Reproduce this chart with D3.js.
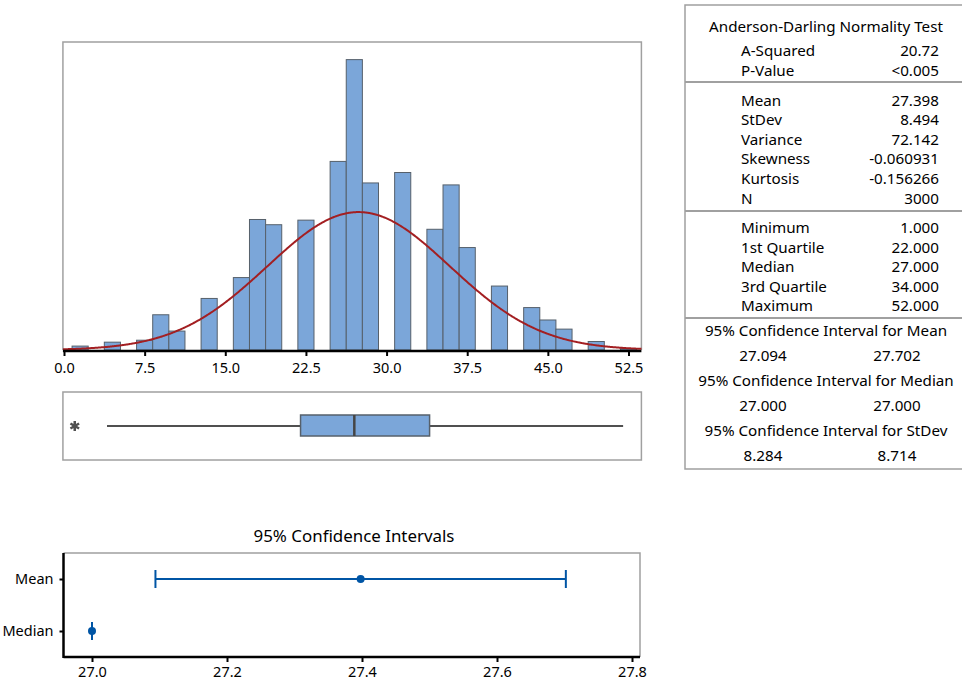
<!DOCTYPE html>
<meta charset="utf-8">
<style>
  body { margin: 0; background: #fff; }
  svg { display: block; font-family: "Noto Sans", sans-serif; }
  .frame { fill: none; stroke: #a0a0a0; stroke-width: 1.5; }
  .axis path, .axis line { stroke: #000; }
  .bar { fill: #7ba6d9; stroke: #56606b; stroke-width: 1; }
  .fit { fill: none; stroke: #a31f22; stroke-width: 2; }
  .tbl text { font-size: 15.2px; fill: #000; }
  .ci { stroke: #0055a5; stroke-width: 2; fill: none; }
</style>
<body></body>
<script src="https://d3js.org/d3.v7.min.js"></script>
<script>

// histogram bins (centers, counts)
var binCenters = [1.5, 4.5, 7.5, 9, 10.5, 13.5, 16.5, 18, 19.5, 22.5, 25.5, 27, 28.5, 31.5, 34.5, 36, 37.5, 40.5, 43.5, 45, 46.5, 49.5, 52.5];
var binCounts  = [6, 12, 15, 54, 29, 79, 111, 200, 192, 199, 289, 445, 256, 272, 185, 253, 157, 98, 65, 46, 32, 13, 2];
var binWidth = 1.5;
var histTicks = [0, 7.5, 15, 22.5, 30, 37.5, 45, 52.5];

// summary stats
var mean = 27.398, stdev = 8.494, n = 3000;
var boxStats = [4, 22, 27, 34, 52]; // whisker lo, Q1, median, Q3, whisker hi
var outliers = [1];

// confidence intervals
var ciRows  = ["Mean", "Median"];
var ciCenter = [27.398, 27.0];
var ciLower  = [27.094, 27.0];
var ciUpper  = [27.702, 27.0];
var ciTicks  = [27.0, 27.2, 27.4, 27.6, 27.8];

// table on the right
var adLabels = ["A-Squared", "P-Value"];
var adValues = ["20.72", "<0.005"];
var momLabels = ["Mean", "StDev", "Variance", "Skewness", "Kurtosis", "N"];
var momValues = ["27.398", "8.494", "72.142", "-0.060931", "-0.156266", "3000"];
var qLabels = ["Minimum", "1st Quartile", "Median", "3rd Quartile", "Maximum"];
var qValues = ["1.000", "22.000", "27.000", "34.000", "52.000"];
var ciTitles = ["95% Confidence Interval for Mean", "95% Confidence Interval for Median", "95% Confidence Interval for StDev"];
var ciPairs = [["27.094", "27.702"], ["27.000", "27.000"], ["8.284", "8.714"]];

var FONT = '"Noto Sans", sans-serif';

var svg = d3.select("body").append("svg")
    .attr("width", 962)
    .attr("height", 682);

function styleAxisText(g, size) {
  g.selectAll("text")
      .style("font-family", FONT)
      .style("font-size", size + "px")
      .style("fill", "#000");
}

// ---------- histogram ----------
var x = d3.scaleLinear().domain([0, 52.5]).range([64, 628.5]);
var y = d3.scaleLinear().domain([0, 472]).range([350, 42]);
var xLo = -0.1, xHi = 53.7;

var hist = svg.append("g");

hist.append("path")
    .attr("class", "frame")
    .attr("d", "M" + x(xLo) + "," + y(0) + "V" + y(472) + "H" + x(xHi) + "V" + y(0));

hist.selectAll("rect.bar")
    .data(binCenters)
    .enter().append("rect")
    .attr("class", "bar")
    .attr("x", function(d) { return x(d - binWidth / 2); })
    .attr("width", function(d) { return x(d + binWidth / 2) - x(d - binWidth / 2); })
    .attr("y", function(d, i) { return y(binCounts[i]); })
    .attr("height", function(d, i) { return y(0) - y(binCounts[i]); });

// fitted normal curve from the table's mean / stdev
var fitPts = d3.range(xLo, xHi + 0.01, 0.1).map(function(v) {
  var z = (v - mean) / stdev;
  return [v, n * binWidth * Math.exp(-0.5 * z * z) / (stdev * Math.sqrt(2 * Math.PI))];
});
hist.append("path")
    .datum(fitPts)
    .attr("class", "fit")
    .attr("d", d3.line().curve(d3.curveBasis)
      .x(function(d) { return x(d[0]); })
      .y(function(d) { return y(d[1]); }));

var xAxis = hist.append("g")
    .attr("class", "axis")
    .attr("transform", "translate(0," + (y(0) + 1) + ")")
    .call(d3.axisBottom(x).tickValues(histTicks).tickFormat(d3.format(".1f")).tickSizeOuter(0).tickSize(5));
xAxis.select(".domain").attr("d", "M" + x(xLo) + ",0H" + x(xHi)).attr("stroke-width", 2.5);
xAxis.selectAll(".tick line").attr("stroke-width", 2);
xAxis.selectAll("text").attr("y", 9).attr("dy", "0.9em");
styleAxisText(xAxis, 14.5);

// ---------- box plot ----------
var box = svg.append("g");
var bY = 426;
box.append("rect")
    .attr("class", "frame")
    .attr("x", x(xLo)).attr("y", 392)
    .attr("width", x(xHi) - x(xLo)).attr("height", 68);

box.append("line")
    .attr("x1", x(boxStats[0])).attr("x2", x(boxStats[4]))
    .attr("y1", bY).attr("y2", bY)
    .attr("stroke", "#505050").attr("stroke-width", 2);

box.append("rect")
    .attr("x", x(boxStats[1])).attr("y", bY - 11)
    .attr("width", x(boxStats[3]) - x(boxStats[1])).attr("height", 21)
    .attr("fill", "#7ba6d9").attr("stroke", "#56606b").attr("stroke-width", 1.5);

box.append("line")
    .attr("x1", x(boxStats[2])).attr("x2", x(boxStats[2]))
    .attr("y1", bY - 11).attr("y2", bY + 10)
    .attr("stroke", "#454545").attr("stroke-width", 2.5);

box.selectAll("path.out")
    .data(outliers)
    .enter().append("path")
    .attr("class", "out")
    .attr("transform", function(d) { return "translate(" + x(d) + "," + bY + ")"; })
    .attr("d", d3.symbol(d3.symbolAsterisk, 70))
    .attr("fill", "none")
    .attr("stroke", "#505050").attr("stroke-width", 2.5);

// ---------- 95% confidence intervals ----------
var cx = d3.scaleLinear().domain([27.0, 27.8]).range([92, 632]);
var cy = d3.scalePoint().domain(ciRows).range([579, 631]);
var ci = svg.append("g");

ci.append("text")
    .attr("x", 354).attr("y", 542)
    .attr("text-anchor", "middle")
    .style("font-size", "16.9px")
    .text("95% Confidence Intervals");

ci.append("path")
    .attr("class", "frame")
    .attr("d", "M63.5,553H640V657");

var cxAxis = ci.append("g")
    .attr("class", "axis")
    .attr("transform", "translate(0,657)")
    .call(d3.axisBottom(cx).tickValues(ciTicks).tickFormat(d3.format(".1f")).tickSizeOuter(0).tickSize(5));
cxAxis.select(".domain").attr("d", "M63.5,0H640").attr("stroke-width", 2.5);
cxAxis.selectAll(".tick line").attr("stroke-width", 2);
cxAxis.selectAll("text").attr("y", 8).attr("dy", "0.85em");
styleAxisText(cxAxis, 14.5);

var cyAxis = ci.append("g")
    .attr("class", "axis")
    .attr("transform", "translate(63.5,0)")
    .call(d3.axisLeft(cy).tickSize(4).tickPadding(6).tickSizeOuter(0));
cyAxis.select(".domain").attr("d", "M0,553V658").attr("stroke-width", 2.5);
cyAxis.selectAll(".tick line").attr("stroke-width", 2);
styleAxisText(cyAxis, 14.5);

var rows = ci.selectAll("g.row")
    .data(ciRows)
    .enter().append("g")
    .attr("class", "row");

rows.append("line")
    .attr("class", "ci")
    .attr("x1", function(d, i) { return cx(ciLower[i]); })
    .attr("x2", function(d, i) { return cx(ciUpper[i]); })
    .attr("y1", function(d) { return cy(d); })
    .attr("y2", function(d) { return cy(d); });

rows.each(function(d, i) {
  var g = d3.select(this);
  var caps = ciLower[i] === ciUpper[i] ? [ciLower[i]] : [ciLower[i], ciUpper[i]];
  g.selectAll("line.cap")
      .data(caps)
      .enter().append("line")
      .attr("class", "ci cap")
      .attr("x1", function(v) { return cx(v); })
      .attr("x2", function(v) { return cx(v); })
      .attr("y1", cy(d) - 9)
      .attr("y2", cy(d) + 9);
});

rows.append("circle")
    .attr("cx", function(d, i) { return cx(ciCenter[i]); })
    .attr("cy", function(d) { return cy(d); })
    .attr("r", 4)
    .attr("fill", "#0055a5");

// ---------- stats table ----------
var tbl = svg.append("g").attr("class", "tbl");
var tL = 685, tR = 963, tMid = 826, labX = 741, valX = 939;

tbl.append("path")
    .attr("class", "frame")
    .attr("d", "M" + tR + ",5H" + tL + "V469H" + tR);

[82, 211, 318].forEach(function(yy) {
  tbl.append("line")
      .attr("x1", tL).attr("x2", tR).attr("y1", yy).attr("y2", yy)
      .attr("stroke", "#a0a0a0").attr("stroke-width", 2);
});

function centerText(txt, yy) {
  tbl.append("text").attr("x", tMid).attr("y", yy).attr("text-anchor", "middle")
      .attr("dominant-baseline", "central").text(txt);
}
function rowsText(labels, values, y0) {
  labels.forEach(function(l, i) {
    tbl.append("text").attr("x", labX).attr("y", y0 + i * 19.6)
        .attr("dominant-baseline", "central").text(l);
    tbl.append("text").attr("x", valX).attr("y", y0 + i * 19.6)
        .attr("text-anchor", "end").attr("dominant-baseline", "central").text(values[i]);
  });
}

centerText("Anderson-Darling Normality Test", 26);
rowsText(adLabels, adValues, 50);
rowsText(momLabels, momValues, 99.5);
rowsText(qLabels, qValues, 227);

ciTitles.forEach(function(t, i) {
  var yy = 330 + i * 50;
  centerText(t, yy);
  tbl.append("text").attr("x", 763).attr("y", yy + 25).attr("text-anchor", "middle")
      .attr("dominant-baseline", "central").text(ciPairs[i][0]);
  tbl.append("text").attr("x", 897).attr("y", yy + 25).attr("text-anchor", "middle")
      .attr("dominant-baseline", "central").text(ciPairs[i][1]);
});

</script>
